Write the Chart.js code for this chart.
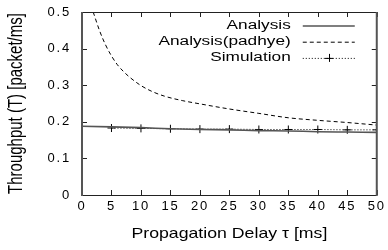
<!DOCTYPE html>
<html><head><meta charset="utf-8">
<script src="https://cdn.jsdelivr.net/npm/chart.js@4/dist/chart.umd.min.js"></script>
<style>html,body{margin:0;padding:0;background:#fff}#w{width:388px;height:250px}</style>
</head><body><div id="w"><canvas id="c" width="388" height="250"></canvas></div>
<script>
// ---- data ----
const xTicks = [0,5,10,15,20,25,30,35,40,45,50];
const yTicks = [0,0.1,0.2,0.3,0.4,0.5];
const analysisTau = [0,5,10,15,20,25,30,35,40,45,50];
const analysisT   = [0.188,0.186,0.184,0.181,0.179,0.178,0.176,0.175,0.173,0.172,0.171];
const padhyeTau = [1.9,3,4,5,6,7,8,10,12,14,17,20,25,30,35,40,45,50];
const padhyeT   = [0.5,0.448,0.41,0.38,0.356,0.338,0.323,0.299,0.282,0.27,0.258,0.249,0.235,0.223,0.211,0.204,0.198,0.191];
const simTau = [5,10,15,20,25,30,35,40,45,50];
const simT   = [0.183,0.182,0.181,0.180,0.180,0.179,0.179,0.179,0.178,0.178];
const seriesNames = ['Analysis','Analysis(padhye)','Simulation'];
const xTitle = 'Propagation Delay \u03c4 [ms]';
const yTitle = 'Throughput (T) [packet/ms]';

const FONT = '"Liberation Sans", Arial, Helvetica, sans-serif';
const pts = (xs, ys) => xs.map((x, i) => ({x, y: ys[i]}));

// stretch text horizontally like the original (scaled) figure
function patchScale(scale, labelSpacing, titleStretch, titleCenter) {
  if (scale._patched) return;
  scale._patched = true;
  const dl = scale.drawLabels.bind(scale);
  const dt = scale.drawTitle.bind(scale);
  scale.drawLabels = function(a){ const c=this.ctx; c.save(); c.letterSpacing=labelSpacing; dl(a); c.restore(); };
  scale.drawTitle = function(a){
    const c=this.ctx; const cx = titleCenter(this);
    c.save(); c.translate(cx,0); c.scale(titleStretch,1); c.translate(-cx,0); dt(a); c.restore();
  };
}

const framePlugin = {
  id: 'frame',
  beforeDraw(chart) {
    patchScale(chart.scales.x, '1.8px', 1.18, s => (s.left + s.right) / 2);
    patchScale(chart.scales.y, '1.8px', 1.3, s => s.left + 15 * 1.2 / 2 + 8);
  },
  afterDatasetsDraw(chart) {
    const {ctx, chartArea: a, scales: {x, y}} = chart;
    ctx.save();
    ctx.strokeStyle = '#222';
    ctx.lineWidth = 1;
    ctx.beginPath();
    xTicks.forEach(v => {
      const px = Math.round(x.getPixelForValue(v)) + 0.5;
      ctx.moveTo(px, a.bottom); ctx.lineTo(px, a.bottom - 5);
      ctx.moveTo(px, a.top); ctx.lineTo(px, a.top + 5);
    });
    yTicks.forEach(v => {
      const py = Math.round(y.getPixelForValue(v)) + 0.5;
      ctx.moveTo(a.left, py); ctx.lineTo(a.left + 5, py);
      ctx.moveTo(a.right, py); ctx.lineTo(a.right - 5, py);
    });
    ctx.stroke();
    ctx.beginPath();
    ctx.moveTo(a.left, Math.round(a.top) + 0.5); ctx.lineTo(a.right, Math.round(a.top) + 0.5);
    ctx.moveTo(a.left, Math.round(a.bottom) + 0.5); ctx.lineTo(a.right, Math.round(a.bottom) + 0.5);
    ctx.stroke();
    ctx.strokeStyle = '#555';
    ctx.lineWidth = 2;
    ctx.beginPath();
    ctx.moveTo(a.left, a.top); ctx.lineTo(a.left, a.bottom + 1);
    ctx.moveTo(a.right, a.top); ctx.lineTo(a.right, a.bottom + 1);
    ctx.stroke();
    ctx.restore();
  },
  afterDraw(chart) {
    const {ctx, chartArea: a} = chart;
    const textR = a.right - 86, s0 = a.right - 74, s1 = a.right - 22;
    ctx.save();
    chart.data.datasets.forEach((ds, i) => {
      const yy = a.top + 13.5 + i * 16.2;
      ctx.save();
      ctx.translate(textR, yy);
      ctx.scale(1.38, 1);
      ctx.font = '12.5px ' + FONT;
      ctx.fillStyle = '#000';
      ctx.textAlign = 'right';
      ctx.textBaseline = 'middle';
      ctx.fillText(ds.label, 0, 0);
      ctx.restore();
      ctx.strokeStyle = ds.borderColor;
      ctx.lineWidth = ds.borderWidth;
      ctx.setLineDash(ds.borderDash || []);
      ctx.beginPath();
      ctx.moveTo(s0, yy + 0.5); ctx.lineTo(s1, yy + 0.5);
      ctx.stroke();
      ctx.setLineDash([]);
      if (ds.pointRadius > 0) {
        const cx = Math.round((s0 + s1) / 2), r = ds.pointRadius;
        ctx.strokeStyle = ds.pointBorderColor;
        ctx.lineWidth = 1;
        ctx.beginPath();
        ctx.moveTo(cx - r, yy + 0.5); ctx.lineTo(cx + r, yy + 0.5);
        ctx.moveTo(cx + 0.5, yy - r); ctx.lineTo(cx + 0.5, yy + r);
        ctx.stroke();
      }
    });
    ctx.restore();
  }
};

new Chart(document.getElementById('c'), {
  type: 'line',
  data: {
    datasets: [
      { label: seriesNames[0], data: pts(analysisTau, analysisT), borderColor: '#555', borderWidth: 1.6,
        pointRadius: 0, cubicInterpolationMode: 'monotone' },
      { label: seriesNames[1], data: pts(padhyeTau, padhyeT), borderColor: '#000', borderWidth: 1,
        borderDash: [4, 3], pointRadius: 0, cubicInterpolationMode: 'monotone' },
      { label: seriesNames[2], data: pts(simTau, simT), borderColor: '#000', borderWidth: 1,
        borderDash: [1, 2], pointStyle: 'cross', pointRadius: 4, pointBorderColor: '#000',
        pointBorderWidth: 1, pointBackgroundColor: '#000' }
    ]
  },
  options: {
    responsive: false, animation: false, devicePixelRatio: 1,
    layout: { padding: { top: 12, right: 9, left: 0, bottom: 0 } },
    plugins: { legend: { display: false }, tooltip: { enabled: false } },
    scales: {
      x: {
        type: 'linear', min: 0, max: 50,
        afterBuildTicks: s => { s.ticks = xTicks.map(v => ({value: v})); },
        afterFit: s => { s.height = 55; },
        grid: { display: false, drawTicks: false }, border: { display: false },
        ticks: { color: '#000', font: { family: FONT, size: 13 }, padding: 4, maxRotation: 0, autoSkip: false },
        title: { display: true, text: xTitle, color: '#000', font: { family: FONT, size: 15 }, padding: { top: 0, bottom: 7 } }
      },
      y: {
        min: 0, max: 0.5,
        afterBuildTicks: s => { s.ticks = yTicks.map(v => ({value: v})); },
        afterFit: s => { s.width = 82; s.paddingTop = 0; s.paddingBottom = 0; },
        grid: { display: false, drawTicks: false }, border: { display: false },
        ticks: { color: '#000', font: { family: FONT, size: 13 }, padding: 11, autoSkip: false,
                 callback: v => String(+v.toFixed(1)) },
        title: { display: true, text: yTitle, color: '#000', font: { family: FONT, size: 15 }, padding: { top: 8, bottom: 0 } }
      }
    }
  },
  plugins: [framePlugin]
});
</script>
</body></html>
